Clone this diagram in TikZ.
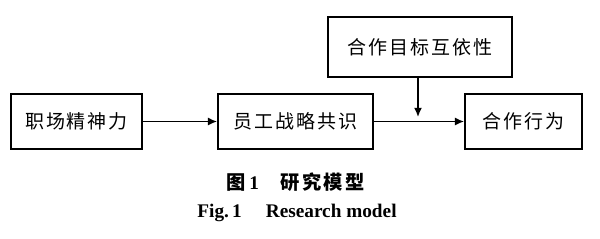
\documentclass[tikz,border=0pt]{standalone}
\usepackage{fontspec}
\setmainfont{Liberation Serif}
\newfontfamily\cjk{Noto Sans CJK SC}[LetterSpace=10]
\newfontfamily\cjkcap{Noto Sans CJK SC}[LetterSpace=14]
\usetikzlibrary{arrows.meta,positioning}
\tikzset{
  px/.style={x=0.025cm, y=-0.025cm},
  m box/.style={draw, line width=1.2pt, minimum height=1.375cm, inner sep=0pt, font=\cjk\fontsize{13.5}{15}\selectfont},
  m arr/.style={-{Latex[length=2.3mm, width=2mm]}, line width=1.1pt},
  m cap/.style={font=\bfseries\fontsize{13.7}{15}\selectfont},
}
\begin{document}
\begin{tikzpicture}[px]
\useasboundingbox (0,0) rectangle (600,238);
% ---- model ----
\node[m box, minimum width=3.275cm] (spirit) at (76.5,121.5) {职场精神力};
\node[m box, minimum width=3.875cm] (consensus) at (295.5,121.5) {员工战略共识};
\node[m box, minimum width=4.6cm, minimum height=1.5cm] (interdep) at (420,47) {合作目标互依性};
\node[m box, minimum width=2.925cm] (coop) at (523.5,121.5) {合作行为};
\coordinate (jn) at (418,117);
\draw[m arr] (spirit) -- (consensus);
\draw[m arr] (consensus) -- (coop);
\draw[m arr] (interdep.south -| jn) -- (jn);
% ---- caption ----
\node[m cap] (capcn) at (296,182) {{\cjkcap 图}\,1\hspace{1.1em}{\cjkcap 研究模型}};
\node[m cap] (capen) at (297,213) {Fig.\,1\hspace{1.25em}Research model};
\end{tikzpicture}
\end{document}
